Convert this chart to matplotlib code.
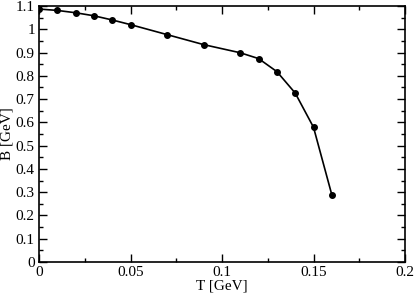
import matplotlib
matplotlib.use("Agg")
import matplotlib.pyplot as plt
from matplotlib.ticker import MultipleLocator, FuncFormatter

T = [0.0, 0.01, 0.02, 0.03, 0.04, 0.05, 0.07, 0.09, 0.11, 0.12, 0.13, 0.14, 0.15, 0.16]
B = [1.087, 1.081, 1.071, 1.058, 1.040, 1.020, 0.977, 0.934, 0.899, 0.874, 0.818, 0.726, 0.579, 0.289]

plt.rcParams['font.family'] = ['Liberation Serif', 'DejaVu Serif']
plt.rcParams['font.size'] = 11

fig = plt.figure(figsize=(4.15, 2.94), dpi=100)
ax = fig.add_axes([39 / 415, 1 - 262 / 294, 366 / 415, 256 / 294])

ax.plot(T, B, color='black', lw=1.2, marker='o', markersize=4)

ax.set_xlim(0, 0.2)
ax.set_ylim(0, 1.1)
ax.xaxis.set_major_locator(MultipleLocator(0.05))
ax.xaxis.set_minor_locator(MultipleLocator(0.025))
ax.yaxis.set_major_locator(MultipleLocator(0.1))
ax.yaxis.set_minor_locator(MultipleLocator(0.05))
fmt = FuncFormatter(lambda v, pos: '%g' % round(v, 3))
ax.xaxis.set_major_formatter(fmt)
ax.yaxis.set_major_formatter(fmt)
ax.tick_params(which='both', direction='in', top=True, right=True, width=1)
ax.tick_params(which='major', length=6, pad=3)
ax.tick_params(which='minor', length=3)
for s in ax.spines.values():
    s.set_linewidth(1.2)

ax.set_xlabel('T [GeV]', labelpad=0)
ax.set_ylabel('B [GeV]', labelpad=2)

fig.savefig('out.png', dpi=100)
